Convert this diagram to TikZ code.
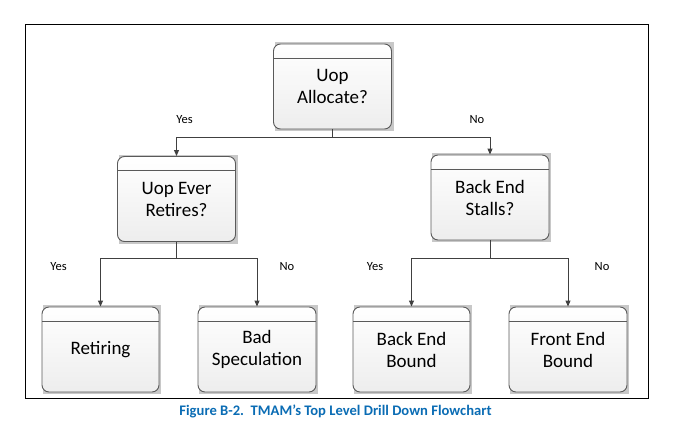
\documentclass[tikz,border=0pt]{standalone}
\usepackage{fontspec}
\setmainfont{Carlito}
\usetikzlibrary{arrows.meta,backgrounds}
\definecolor{edgegray}{HTML}{5A5A5A}
\definecolor{linegray}{HTML}{404040}
\definecolor{shadowgray}{HTML}{C8C8C8}
\definecolor{capblue}{HTML}{0A6CB4}
\tikzset{
  fcbox/.style={draw=edgegray, line width=0.9pt, rounded corners=7pt,
    top color=white, bottom color=black!7, minimum width=118pt, minimum height=85pt,
    inner sep=0pt, align=center, font=\fontsize{19}{22}\selectfont,
    path picture={\draw[edgegray, line width=0.9pt]
      ([yshift=-14pt]path picture bounding box.north west) --
      ([yshift=-14pt]path picture bounding box.north east);}},
  conn/.style={draw=linegray, line width=0.9pt},
  arr/.style={conn, -{Triangle[length=6pt,width=5pt]}},
  lbl/.style={font=\fontsize{12.5}{14}\selectfont, inner sep=0pt},
}
\begin{document}
\begin{tikzpicture}[x=1pt,y=-1pt]
\useasboundingbox (0,0) rectangle (686,428);
\draw[line width=1pt] (25,25) rectangle (648,398);
% boxes
\node[fcbox] (ua) at (332.5,86.5) {Uop\\Allocate?};
\node[fcbox] (uer) at (176.5,199) {Uop Ever\\Retires?};
\node[fcbox] (bes) at (490,197.5) {Back End\\Stalls?};
\node[fcbox, minimum width=117pt] (ret) at (100.5,349.5) {Retiring};
\node[fcbox] (bs) at (257,349.5) {Bad\\Speculation};
\node[fcbox, minimum width=117pt] (beb) at (411.5,349.5) {Back End\\Bound};
\node[fcbox] (feb) at (568,349.5) {Front End\\Bound};
% shadows
\begin{scope}[on background layer]
\foreach \n in {ua,uer,bes,ret,bs,beb,feb}{
  \fill[shadowgray] ([shift={(1.5,-1.5)}]\n.north west) rectangle ([shift={(2,2)}]\n.south east);
}
\end{scope}
% connectors
\coordinate (j1) at (332.5,137);
\coordinate (j2) at (176.5,258.5);
\coordinate (j3) at (490,258.5);
\draw[conn] (ua.south) -- (j1);
\draw[arr] (j1) -| (uer.north);
\draw[arr] (j1) -| (bes.north);
\draw[conn] (uer.south) -- (j2);
\draw[arr] (j2) -| (ret.north);
\draw[arr] (j2) -| (bs.north);
\draw[conn] (bes.south) -- (j3);
\draw[arr] (j3) -| (beb.north);
\draw[arr] (j3) -| (feb.north);
% labels
\node[lbl] (l1) at (184.5,120) {Yes};
\node[lbl] (l2) at (477,120) {No};
\node[lbl] (l3) at (58.5,267) {Yes};
\node[lbl] (l4) at (287,267) {No};
\node[lbl] (l5) at (375,267) {Yes};
\node[lbl] (l6) at (602,267) {No};
% caption
\node[font=\bfseries\fontsize{14.6}{16}\selectfont, text=capblue, inner sep=0pt] (cap) at (335.5,411) {Figure B-2.\ \ TMAM’s Top Level Drill Down Flowchart};
\end{tikzpicture}
\end{document}
